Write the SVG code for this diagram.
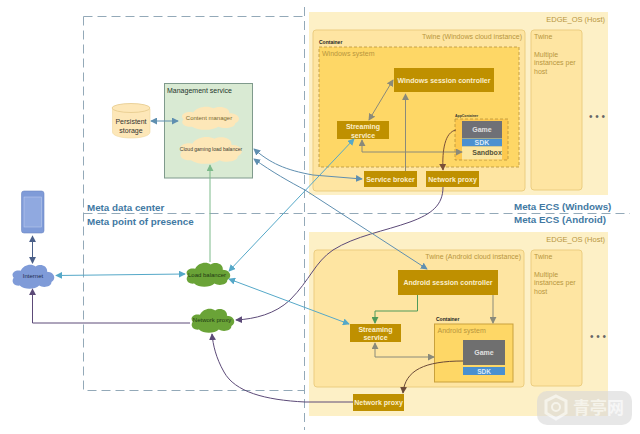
<svg xmlns="http://www.w3.org/2000/svg" width="640" height="434" viewBox="0 0 640 434">
<style>
text{font-family:"Liberation Sans",Arial,sans-serif}
.host{fill:#fdf0c6}
.twine{fill:#fee5a2;stroke:#eccd80;stroke-width:1}
.sys{fill:#fed766}
.sysd{stroke:#b8923a;stroke-width:.8;stroke-dasharray:3 2}
.dk{fill:#bf9000}
.w{fill:#fbeecb;font-size:7px;font-weight:bold;text-anchor:middle}
.o{fill:#b8963e;font-size:7px}
.zone{fill:none;stroke:#93a9b8;stroke-width:1;stroke-dasharray:9 5}
.zt{fill:#4279a3;font-size:9.800px;font-weight:bold}
.c{fill:none;stroke-width:1}
.gr{stroke:#8a8a7a;color:#77776a}
.te{stroke:#55a8c8;color:#3f9cc0}
.bl{stroke:#5f8fb0;color:#44689c}
.gn{stroke:#7dba8a;color:#3f9f55}
.pu{stroke:#5c4a78;color:#4a3a60}
.blk{fill:#3a3a30;font-size:6.500px;text-anchor:middle}
</style>
<defs>
<marker id="a" viewBox="0 0 8 8" refX="7" refY="4" markerWidth="7" markerHeight="7" markerUnits="userSpaceOnUse" orient="auto-start-reverse"><path d="M0 0L8 4L0 8Z" fill="context-stroke"/></marker>
<symbol id="cloud" viewBox="0 0 100 60" preserveAspectRatio="none"><path d="M20 52C6 54 0 42 6 34C-2 24 10 14 22 18C28 4 46 0 56 8C68 0 84 8 82 20C98 20 104 36 92 44C92 56 72 58 64 52C54 62 30 62 20 52Z"/></symbol>
</defs>
<rect width="640" height="434" fill="#fff"/>
<g id="zones">
<path class="zone" d="M83.500 16.500H304M83.500 16.500V390.500H304M304.500 7V430M83.500 213.500H630"/>
</g>
<g id="zone-labels">
<text class="zt" x="87" y="210.500">Meta data center</text>
<text class="zt" x="87" y="225">Meta point of presence</text>
<text class="zt" x="514" y="210">Meta ECS (Windows)</text>
<text class="zt" x="514" y="223">Meta ECS (Android)</text>
</g>
<g id="host-windows">
<rect class="host" x="309" y="12" width="299" height="183"/>
<text class="o" x="605" y="22" text-anchor="end" style="font-size:7.500px">EDGE_OS (Host)</text>
</g>
<g id="twine-windows">
<rect class="twine" x="313" y="30" width="212" height="161" rx="3"/>
<text class="o" x="522" y="39" text-anchor="end">Twine (Windows cloud instance)</text>
<text x="319" y="44" font-size="5" font-weight="bold" fill="#222">Container</text>
</g>
<g id="windows-system">
<rect class="sys sysd" x="319" y="47" width="200" height="120"/>
<text class="o" x="322" y="56">Windows system</text>
</g>
<g id="windows-session-controller"><rect class="dk" x="394" y="68" width="100" height="24"/><text class="w" x="444" y="82.500">Windows session controller</text></g>
<g id="streaming-service-win"><rect class="dk" x="337" y="121" width="52" height="18"/><text class="w" x="363" y="129">Streaming</text><text class="w" x="363" y="137.500">service</text></g>
<g id="appcontainer">
<rect x="455" y="119" width="53" height="41" fill="#fdc94f" class="sysd"/>
<text x="455" y="117" font-size="3.500" font-weight="bold" fill="#333">AppContainer</text>
</g>
<g id="game-win"><rect x="462" y="121" width="40" height="17" fill="#6f7076"/><text class="w" x="482" y="132" style="fill:#e0e0e0">Game</text></g>
<g id="sdk-win"><rect x="462" y="138.500" width="40" height="8" fill="#4a90d0"/><text class="w" x="482" y="145" style="fill:#dbe8f5">SDK</text></g>
<g id="sandbox"><rect x="462" y="146.500" width="40" height="13" fill="#fbe6a0"/><text x="487" y="154.500" font-size="7" font-weight="bold" fill="#55533a" text-anchor="middle">Sandbox</text></g>
<g id="service-broker"><rect class="dk" x="364" y="171" width="53" height="16"/><text class="w" x="390.500" y="181.500">Service broker</text></g>
<g id="network-proxy-win"><rect class="dk" x="426" y="171" width="53" height="16"/><text class="w" x="452.500" y="181.500">Network proxy</text></g>
<g id="twine-win-2">
<rect class="twine" x="531" y="30" width="51" height="160" rx="3"/>
<text class="o" x="534" y="39">Twine</text>
<text class="o" x="534" y="57">Multiple</text>
<text class="o" x="534" y="65">instances per</text>
<text class="o" x="534" y="73.500">host</text>
</g>
<g id="dots-win"><text x="597" y="120" font-size="10" fill="#666" text-anchor="middle">• • •</text></g>

<g id="host-android">
<rect class="host" x="309" y="232" width="299" height="184"/>
<text class="o" x="605" y="242" text-anchor="end" style="font-size:7.500px">EDGE_OS (Host)</text>
</g>
<g id="twine-android">
<rect class="twine" x="314" y="250" width="210" height="137" rx="3"/>
<text class="o" x="521" y="259" text-anchor="end">Twine (Android cloud instance)</text>
</g>
<g id="android-session-controller"><rect class="dk" x="398" y="270" width="100" height="25"/><text class="w" x="448" y="285">Android session controller</text></g>
<g id="streaming-service-android"><rect class="dk" x="350" y="324" width="51" height="18"/><text class="w" x="375.500" y="331.500">Streaming</text><text class="w" x="375.500" y="340">service</text></g>
<g id="android-system">
<text x="436" y="321" font-size="5" font-weight="bold" fill="#222">Container</text>
<rect x="434.500" y="324" width="78.500" height="58" fill="#fed766" stroke="#c9a13c"/>
<text class="o" x="437.500" y="333">Android system</text>
</g>
<g id="game-android"><rect x="463" y="340" width="42" height="25" fill="#6f6f6f"/><text class="w" x="484" y="355" style="fill:#e0e0e0">Game</text></g>
<g id="sdk-android"><rect x="463" y="367" width="42" height="8" fill="#4a90d0"/><text class="w" x="484" y="373.500" style="fill:#dbe8f5;font-size:6.500px">SDK</text></g>
<g id="network-proxy-android"><rect class="dk" x="353" y="394" width="51" height="17"/><text class="w" x="378.500" y="405">Network proxy</text></g>
<g id="twine-android-2">
<rect class="twine" x="531" y="250" width="51" height="136" rx="3"/>
<text class="o" x="534" y="259">Twine</text>
<text class="o" x="534" y="277">Multiple</text>
<text class="o" x="534" y="285">instances per</text>
<text class="o" x="534" y="293.500">host</text>
</g>
<g id="dots-android"><text x="598" y="340" font-size="10" fill="#666" text-anchor="middle">• • •</text></g>

<g id="management-service">
<rect x="164.500" y="83.500" width="88" height="94.500" fill="#d9ead3" stroke="#7f9a8c"/>
<text x="167" y="92.500" font-size="7" fill="#24352c">Management service</text>
</g>
<g id="content-manager" fill="#fde7b8">
<use href="#cloud" x="180" y="105" width="60" height="25"/>
<text class="blk" x="209" y="120" style="fill:#7a6a30;font-size:6px">Content manager</text>
</g>
<g id="cloud-gaming-lb" fill="#fde7b8">
<use href="#cloud" x="178" y="135" width="65" height="29"/>
<text class="blk" x="211" y="151" style="font-size:5px">Cloud gaming load balancer</text>
</g>
<g id="persistent-storage">
<path d="M112.500 109V132C112.500 140 150 140 150 132V109Z" fill="#fde7b8" stroke="#f0d8a0" stroke-width=".6"/>
<ellipse cx="131" cy="108" rx="19" ry="4.500" fill="#fde7b8" stroke="#e5c98a" stroke-width=".8"/>
<text x="131" y="124" font-size="7" fill="#333" text-anchor="middle">Persistent</text>
<text x="131" y="133" font-size="7" fill="#333" text-anchor="middle">storage</text>
</g>
<g id="phone">
<rect x="21.500" y="191" width="22.500" height="42" rx="2.500" fill="#7f9bd8" stroke="#6c86c2" stroke-width=".6"/>
<rect x="24" y="197" width="17.500" height="30" fill="#90a9e0" stroke="#c2d0ee" stroke-width=".5"/>
</g>
<g id="internet" fill="#7f9bd8">
<use href="#cloud" x="11" y="263" width="44" height="26"/>
<text class="blk" x="33" y="278" style="fill:#1f2d4d;font-size:6px">Internet</text>
</g>
<g id="load-balancer" fill="#6aa337">
<use href="#cloud" x="185" y="261" width="46" height="26"/>
<text class="blk" x="207" y="277" style="fill:#1f3a12;font-size:6px">Load balancer</text>
</g>
<g id="network-proxy-pop" fill="#6aa337">
<use href="#cloud" x="190" y="307" width="45" height="26"/>
<text class="blk" x="212" y="322" style="fill:#1f3a12;font-size:6px">Network proxy</text>
</g>

<g id="connectors">
<path class="c bl" marker-start="url(#a)" marker-end="url(#a)" d="M151 121H178"/>
<path class="c gn" marker-end="url(#a)" d="M210 262V165"/>
<path class="c bl" style="stroke:#4a5f88" marker-start="url(#a)" marker-end="url(#a)" d="M32.500 236V263"/>
<path class="c te" marker-start="url(#a)" marker-end="url(#a)" d="M56 275.500L185 274"/>
<path class="c pu" marker-end="url(#a)" d="M190 323H32.500V289"/>
<path class="c pu" marker-end="url(#a)" d="M353 402H305C265 400 235 392 224 372C216 358 213 345 212 334"/>
<path class="c pu" marker-end="url(#a)" d="M443 187C443 205 432 214 410 222C385 231 355 236 333 250C315 262 310 280 290 300C275 314 255 319 236 320"/>
<path class="c te" marker-start="url(#a)" marker-end="url(#a)" d="M354 139L229 271"/>
<path class="c bl" marker-start="url(#a)" marker-end="url(#a)" d="M254 149C270 163 285 170 313 175L362 179"/>
<path class="c bl" marker-start="url(#a)" marker-end="url(#a)" d="M254 159C272 172 290 182 305 190L427 269"/>
<path class="c te" marker-start="url(#a)" marker-end="url(#a)" d="M229 279L349 324"/>
<path class="c gn" style="stroke:#4f9a5a" marker-end="url(#a)" d="M417.500 295V311H375V323"/>
<path class="c gr" marker-end="url(#a)" d="M493 295V323"/>
<path class="c gr" marker-start="url(#a)" marker-end="url(#a)" d="M375 343V357H434"/>
<path class="c pu" style="stroke:#6b4a38" marker-end="url(#a)" d="M463 361C425 361 405 370 403 393"/>
<path class="c gr" marker-start="url(#a)" marker-end="url(#a)" d="M393 80L369 120"/>
<path class="c gr" marker-end="url(#a)" d="M405.500 171V94"/>
<path class="c gr" marker-start="url(#a)" marker-end="url(#a)" d="M362 140V152H462"/>
<path class="c pu" style="stroke:#7a5038" marker-end="url(#a)" d="M456 130C445 132 442 150 443 170"/>
</g>
<g id="watermark" opacity=".8">
<rect x="537" y="391" width="95" height="34" rx="10" fill="#d8d8d8" opacity=".75"/>
<path d="M556 396L566 401V413L556 419L546 413V401Z" fill="none" stroke="#f4f4f4" stroke-width="3"/>
<circle cx="556" cy="407" r="4" fill="none" stroke="#f4f4f4" stroke-width="2"/>
<text x="573" y="414" font-size="17" font-weight="bold" fill="#f4f4f4" style="font-family:'Noto Sans CJK SC',sans-serif">青亭网</text>
</g>
</svg>
